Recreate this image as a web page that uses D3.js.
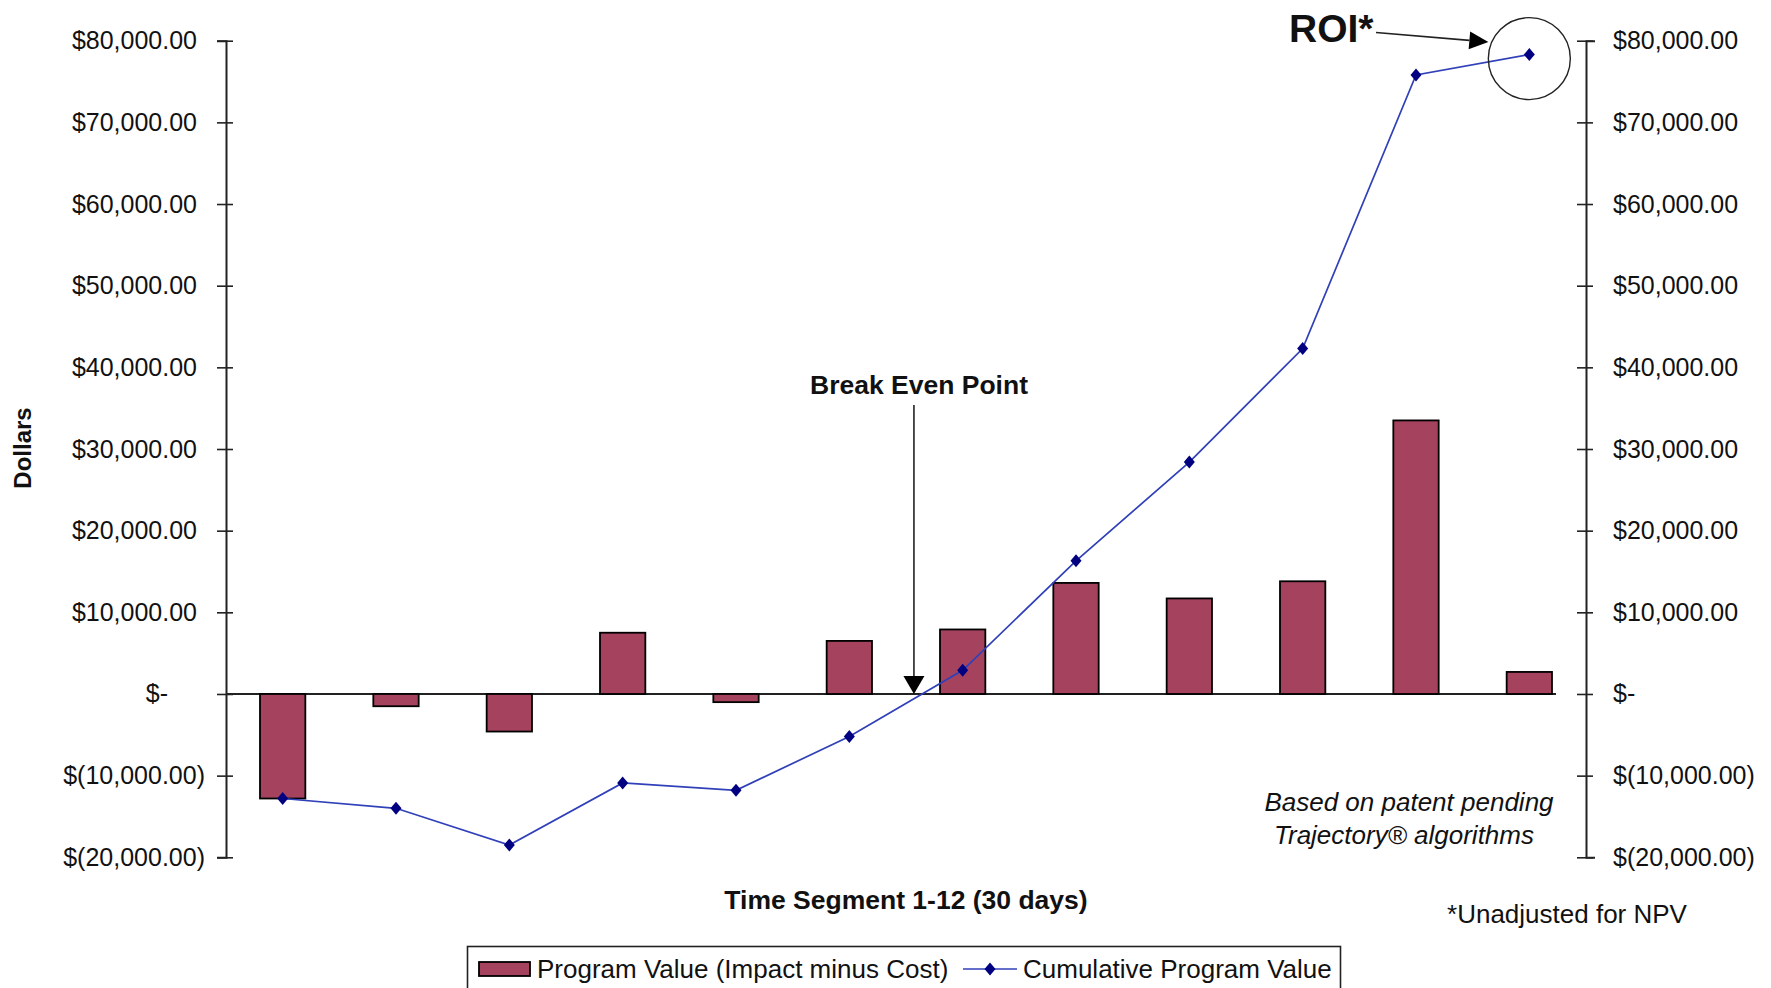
<!DOCTYPE html>
<html>
<head>
<meta charset="utf-8">
<script src="https://cdn.jsdelivr.net/npm/d3@7"></script>
<style>
  html, body { margin: 0; padding: 0; background: #fff; }
  svg { display: block; font-family: "Liberation Sans", Arial, sans-serif; }
</style>
</head>
<body>
<svg id="chart" width="1771" height="988"></svg>
<script>
// ---- data ----
const categories = ["1","2","3","4","5","6","7","8","9","10","11","12"];
const programValue = [-12800, -1500, -4600, 7500, -1000, 6500, 7900, 13600, 11700, 13800, 33500, 2700];
const cumulativeValue = [-12800, -14000, -18500, -10900, -11800, -5200, 2900, 16300, 28400, 42300, 75800, 78300];
const tickValues = [-20000, -10000, 0, 10000, 20000, 30000, 40000, 50000, 60000, 70000, 80000];
const seriesNames = ["Program Value (Impact minus Cost)", "Cumulative Program Value"];

(function () {
const svg = d3.select("#chart");
const plotLeft = 226, plotRight = 1586, plotTop = 40.7, plotBottom = 857.3;

const x = d3.scaleBand().domain(categories).range([plotLeft, plotRight]).paddingInner(0.6).paddingOuter(0.3);
const y = d3.scaleLinear().domain([-20000, 80000]).range([plotBottom, plotTop]);
const cx = c => x(c) + x.bandwidth() / 2;

const fmt = d3.format(",.2f");
const money = v => v === 0 ? "$-" : (v < 0 ? "$(" + fmt(-v) + ")" : "$" + fmt(v));

const barColor = "#a5435f", lineColor = "#3040b8", markerColor = "#000080";

// ---- axes ----
function styleAxis(g) {
  g.select(".domain").attr("stroke", "#222").attr("stroke-width", 2);
  g.selectAll(".tick line").attr("stroke", "#222").attr("stroke-width", 1.6)
    .attr("x1", -9).attr("x2", 7);
  g.selectAll(".tick text").attr("fill", "#111").attr("font-size", "25px");
}
const yAxisL = d3.axisLeft(y).tickValues(tickValues).tickFormat(money).tickSizeOuter(0).tickSize(9);
const gl = svg.append("g").attr("transform", `translate(${plotLeft},0)`).call(yAxisL);
styleAxis(gl);
gl.selectAll(".tick text")
  .attr("text-anchor", "end")
  .attr("x", d => d === 0 ? -58 : (d < 0 ? -21 : -29));

const yAxisR = d3.axisRight(y).tickValues(tickValues).tickFormat(money).tickSizeOuter(0).tickSize(9);
const gr = svg.append("g").attr("transform", `translate(${plotRight},0)`).call(yAxisR);
styleAxis(gr);
gr.selectAll(".tick text").attr("text-anchor", "start").attr("x", 27);

// zero (category) line
svg.append("line")
  .attr("x1", plotLeft).attr("x2", x(categories[categories.length - 1]) + x.bandwidth() + 4)
  .attr("y1", y(0)).attr("y2", y(0))
  .attr("stroke", "#222").attr("stroke-width", 1.8);

// ---- bars ----
svg.append("g").selectAll("rect").data(programValue).join("rect")
  .attr("x", (d, i) => x(categories[i]))
  .attr("width", x.bandwidth())
  .attr("y", d => y(Math.max(0, d)))
  .attr("height", d => Math.abs(y(d) - y(0)))
  .attr("fill", barColor).attr("stroke", "#000").attr("stroke-width", 1.8);

// ---- line ----
const line = d3.line().x((d, i) => cx(categories[i])).y(d => y(d));
svg.append("path").datum(cumulativeValue)
  .attr("d", line).attr("fill", "none").attr("stroke", lineColor).attr("stroke-width", 1.7);
const diamond = "M0,-6.5L5.5,0L0,6.5L-5.5,0Z";
svg.append("g").selectAll("path").data(cumulativeValue).join("path")
  .attr("d", diamond)
  .attr("transform", (d, i) => `translate(${cx(categories[i])},${y(d)})`)
  .attr("fill", markerColor);

// ---- axis titles ----
svg.append("text").attr("transform", `translate(31,448) rotate(-90)`)
  .attr("text-anchor", "middle").attr("font-weight", "bold").attr("font-size", "24px")
  .attr("fill", "#111").text("Dollars");
svg.append("text").attr("x", 906).attr("y", 909)
  .attr("text-anchor", "middle").attr("font-weight", "bold").attr("font-size", "26.5px")
  .attr("fill", "#111").text("Time Segment 1-12 (30 days)");

// ---- break even annotation ----
const step = x.step();
const beX = cx(categories[5]) + step * 0.57;
svg.append("line").attr("x1", beX).attr("x2", beX).attr("y1", 405).attr("y2", y(0) - 16)
  .attr("stroke", "#222").attr("stroke-width", 1.6);
svg.append("path")
  .attr("d", `M${beX - 10.5},${y(0) - 18}L${beX + 10.5},${y(0) - 18}L${beX},${y(0)}Z`)
  .attr("fill", "#000");
svg.append("text").attr("x", 919).attr("y", 394)
  .attr("text-anchor", "middle").attr("font-weight", "bold").attr("font-size", "26.5px")
  .attr("fill", "#111").text("Break Even Point");

// ---- ROI annotation ----
const roiX = cx(categories[11]), roiY = y(cumulativeValue[11]) + 4;
svg.append("circle").attr("cx", roiX).attr("cy", roiY).attr("r", 41)
  .attr("fill", "none").attr("stroke", "#222").attr("stroke-width", 1.4);
svg.append("text").attr("x", 1289).attr("y", 42)
  .attr("font-weight", "bold").attr("font-size", "39px").attr("fill", "#111").text("ROI*");
const ax0 = 1376, ay0 = 32.5, ax1 = roiX - 41, ay1 = 42;
const ang = Math.atan2(ay1 - ay0, ax1 - ax0);
const hl = 19, hw = 9;
const bx = ax1 - hl * Math.cos(ang), by = ay1 - hl * Math.sin(ang);
svg.append("line").attr("x1", ax0).attr("y1", ay0).attr("x2", bx).attr("y2", by)
  .attr("stroke", "#222").attr("stroke-width", 1.6);
svg.append("path")
  .attr("d", `M${ax1},${ay1}L${bx - hw * Math.sin(ang)},${by + hw * Math.cos(ang)}L${bx + hw * Math.sin(ang)},${by - hw * Math.cos(ang)}Z`)
  .attr("fill", "#000");

// ---- notes ----
svg.append("text").attr("x", 1409).attr("y", 811).attr("text-anchor", "middle")
  .attr("font-style", "italic").attr("font-size", "26px").attr("fill", "#111")
  .text("Based on patent pending");
svg.append("text").attr("x", 1404).attr("y", 844).attr("text-anchor", "middle")
  .attr("font-style", "italic").attr("font-size", "26px").attr("fill", "#111")
  .text("Trajectory® algorithms");
svg.append("text").attr("x", 1567).attr("y", 923).attr("text-anchor", "middle")
  .attr("font-size", "26px").attr("fill", "#111").text("*Unadjusted for NPV");

// ---- legend ----
const lg = svg.append("g");
lg.append("rect").attr("x", 467.5).attr("y", 946.5).attr("width", 873).attr("height", 70)
  .attr("fill", "#fff").attr("stroke", "#222").attr("stroke-width", 1.6);
lg.append("rect").attr("x", 479).attr("y", 962).attr("width", 51).attr("height", 14)
  .attr("fill", barColor).attr("stroke", "#000").attr("stroke-width", 1.8);
lg.append("text").attr("x", 537).attr("y", 978).attr("font-size", "26px").attr("fill", "#111")
  .text(seriesNames[0]);
lg.append("line").attr("x1", 963).attr("x2", 1017).attr("y1", 969).attr("y2", 969)
  .attr("stroke", lineColor).attr("stroke-width", 1.7);
lg.append("path").attr("d", diamond).attr("transform", "translate(990,969)").attr("fill", markerColor);
lg.append("text").attr("x", 1023).attr("y", 978).attr("font-size", "26px").attr("fill", "#111")
  .text(seriesNames[1]);
})();
</script>
</body>
</html>
